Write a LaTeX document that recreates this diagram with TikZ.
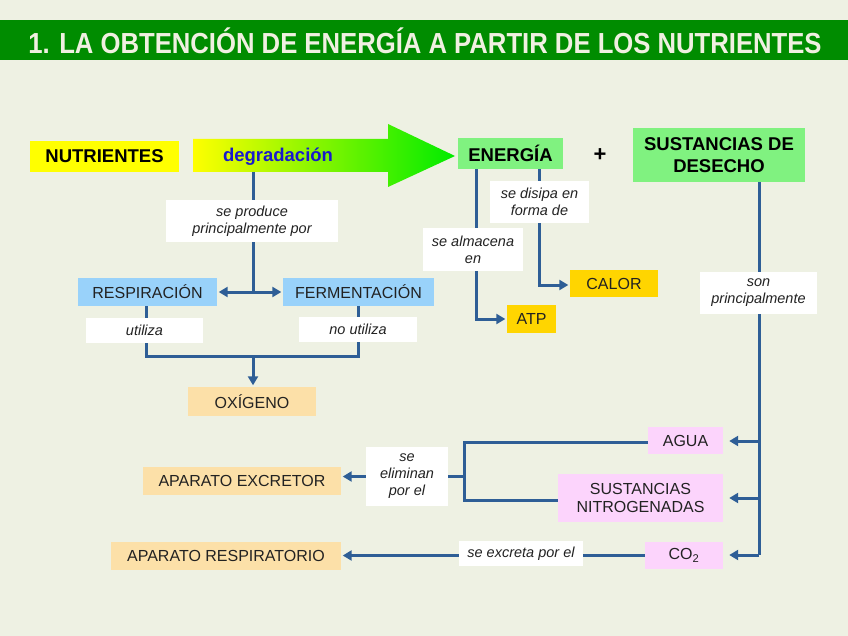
\documentclass[tikz,border=0pt]{standalone}
\usepackage{fontspec}
\setmainfont{Liberation Sans}
\usetikzlibrary{arrows.meta}
\definecolor{bg}{RGB}{238,241,227}
\definecolor{titlegreen}{RGB}{0,140,0}
\definecolor{titletext}{RGB}{240,240,225}
\definecolor{linec}{RGB}{46,94,150}
\definecolor{ylw}{RGB}{255,255,0}
\definecolor{arrgreen}{RGB}{0,235,0}
\definecolor{lgreen}{RGB}{128,242,128}
\definecolor{lblue}{RGB}{153,210,250}
\definecolor{peach}{RGB}{252,224,168}
\definecolor{gold}{RGB}{255,213,0}
\definecolor{pinkb}{RGB}{252,212,252}
\definecolor{degblue}{RGB}{25,25,205}
\definecolor{txt}{RGB}{34,34,34}
\tikzset{
  box/.style={inner sep=0pt, align=center, text=txt, font=\fontsize{16}{18}\selectfont},
  bbox/.style={inner sep=0pt, align=center, text=black, font=\bfseries\fontsize{18.5}{22.5}\selectfont},
  lbl/.style={fill=white, inner sep=0pt, align=center, text=txt, font=\itshape\fontsize{14.5}{17}\selectfont},
  conn/.style={draw=linec, line width=3pt},
  arr/.style={conn, -{Triangle[length=9pt,width=10pt]}, shorten >=1.5pt},
  arrs/.style={arr, shorten >=6pt}
}
\begin{document}
\begin{tikzpicture}[x=1pt,y=-1pt]
\useasboundingbox (0,0) rectangle (848,636);
\fill[bg] (0,0) rectangle (848,636);
% title
\fill[titlegreen] (0,20) rectangle (848,60);
\node[text=titletext, font=\bfseries\fontsize{29}{32}\selectfont, xscale=0.885, inner sep=0pt] (title) at (425,41) {1. LA OBTENCIÓN DE ENERGÍA A PARTIR DE LOS NUTRIENTES};
% top row
\node[bbox, fill=ylw, minimum width=149, minimum height=31] (nut) at (104.5,156.5) {NUTRIENTES};
\shade[left color=ylw, right color=arrgreen] (193,139) -- (388,139) -- (388,124) -- (455,156) -- (388,187) -- (388,172) -- (193,172) -- cycle;
\node[bbox, text=degblue, inner sep=0pt] (degr) at (278,157) {degradación};
\coordinate (arrb) at (253,172);
\node[bbox, fill=lgreen, minimum width=105, minimum height=31] (ener) at (510.5,153.5) {ENERGÍA};
\node[bbox, inner sep=0pt, font=\bfseries\fontsize{22}{24}\selectfont] (plus) at (600,155) {+};
\node[bbox, fill=lgreen, minimum width=172, minimum height=54] (sust) at (719,155) {SUSTANCIAS DE\\DESECHO};
% left branch
\node[box, fill=lblue, minimum width=139, minimum height=28] (resp) at (147.5,292) {RESPIRACIÓN};
\node[box, fill=lblue, minimum width=151, minimum height=28] (ferm) at (358.5,292) {FERMENTACIÓN};
\node[box, fill=peach, minimum width=128, minimum height=29] (oxi) at (252,401.5) {OXÍGENO};
% energy branch
\node[box, fill=gold, minimum width=49, minimum height=28] (atp) at (531.5,319) {ATP};
\node[box, fill=gold, minimum width=88, minimum height=27] (calor) at (614,283.5) {CALOR};
% waste branch
\node[box, fill=pinkb, minimum width=75, minimum height=27] (agua) at (685.5,440.5) {AGUA};
\node[box, fill=pinkb, minimum width=165, minimum height=48] (nitro) at (640.5,498) {SUSTANCIAS\\NITROGENADAS};
\node[box, fill=pinkb, minimum width=78, minimum height=27] (co2) at (684,555.5) {CO\textsubscript{2}};
\node[box, fill=peach, minimum width=198, minimum height=28] (excr) at (242,480.5) {APARATO EXCRETOR};
\node[box, fill=peach, minimum width=230, minimum height=28] (respa) at (226,555.5) {APARATO RESPIRATORIO};
% connectors
\coordinate (split) at (253,292);
\draw[conn] (arrb) -- (split);
\draw[arr] (split) -- (split -| resp.east);
\draw[arr] (split) -- (split -| ferm.west);
\coordinate (j) at (253,356);
\draw[conn] ([xshift=-1.5]resp.south) |- (j) -| (ferm.south);
\draw[arr] (j) -- (j |- oxi.north);
\draw[arr] ([xshift=-34.5]ener.south) |- (atp.west);
\draw[arr] ([xshift=28.5]ener.south) |- ([yshift=-1.5]calor.west);
\coordinate (s1) at (759,441);
\coordinate (s2) at (759,498);
\coordinate (sb) at (759,555);
\draw[conn] ([xshift=40]sust.south) -- (sb);
\draw[arrs] (s1) -- (s1 -| agua.east);
\draw[arrs] (s2) -- (s2 -| nitro.east);
\draw[arrs] (sb) -- (sb -| co2.east);
\coordinate (bt) at (464,442);
\coordinate (bb) at (464,500);
\draw[conn] (agua.west |- bt) -- (bt) -- (bb) -- (nitro.west |- bb);
\node[lbl, minimum width=82, minimum height=59] (elim) at (407,476.5) {se\\eliminan\\por el};
\draw[conn] (elim.east) -- (elim.east -| bt);
\draw[arr] (elim.west) -- (elim.west -| excr.east);
\draw[arr] (co2.west) -- (co2.west -| respa.east);
% labels
\node[lbl, minimum width=172, minimum height=42] (lprod) at (252,221) {se produce\\principalmente por};
\node[lbl, minimum width=117, minimum height=25] (luti) at (144.5,330.5) {utiliza};
\node[lbl, minimum width=118, minimum height=25] (lnouti) at (358,329.5) {no utiliza};
\node[lbl, minimum width=100, minimum height=43] (lalm) at (473,249.5) {se almacena\\en};
\node[lbl, minimum width=99, minimum height=42] (ldis) at (539.5,202) {se disipa en\\forma de};
\node[lbl, minimum width=117, minimum height=42] (lson) at (758.5,293) {son\\principalmente};
\node[lbl, minimum width=124, minimum height=25] (lexc) at (521,553.5) {se excreta por el};
\end{tikzpicture}
\end{document}
